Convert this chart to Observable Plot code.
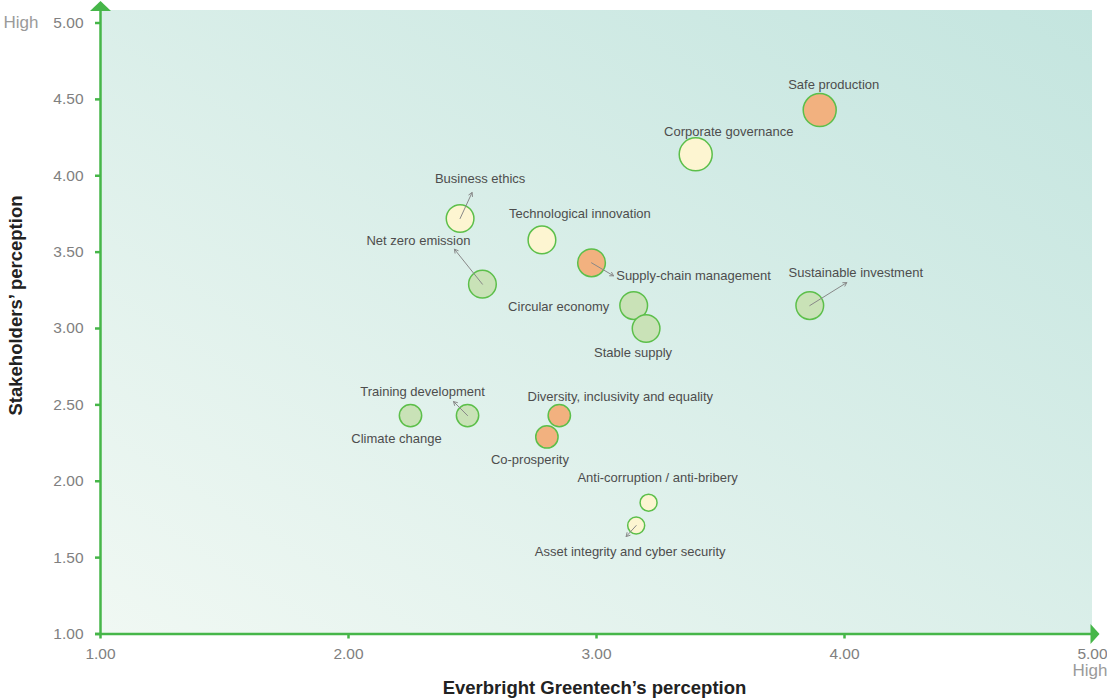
<!DOCTYPE html>
<html><head><meta charset="utf-8">
<script src="https://cdn.jsdelivr.net/npm/d3@7"></script>
<script src="https://cdn.jsdelivr.net/npm/@observablehq/plot@0.6"></script>
<style>
body{margin:0;background:#fff;font-family:"Liberation Sans",Arial,Helvetica,sans-serif}
#chart g[aria-label="x-axis tick"] *, #chart g[aria-label="y-axis tick"] *,
#chart g[aria-label="x-axis tick"], #chart g[aria-label="y-axis tick"],
#chart g[aria-label="x-axis"] .tick line, #chart g[aria-label="y-axis"] .tick line{stroke:#46b649;stroke-width:2.5px}
#chart g[aria-label="x-axis"] .domain, #chart g[aria-label="y-axis"] .domain{display:none}
#chart g[aria-label="x-axis tick label"], #chart g[aria-label="y-axis tick label"],
#chart g[aria-label="x-axis"] text, #chart g[aria-label="y-axis"] text{font-size:15.5px;fill:#808080}
</style>
</head><body><div id="chart"></div>
<script>
// ---- data ----
const topics = ["Safe production","Corporate governance","Business ethics","Technological innovation",
  "Supply-chain management","Net zero emission","Sustainable investment","Circular economy","Stable supply",
  "Climate change","Training development","Diversity, inclusivity and equality","Co-prosperity",
  "Anti-corruption / anti-bribery","Asset integrity and cyber security"];
const companyPerception = [3.90,3.40,2.45,2.78,2.98,2.54,3.86,3.15,3.20,2.25,2.48,2.85,2.80,3.21,3.16];
const stakeholderPerception = [4.43,4.14,3.72,3.58,3.43,3.29,3.15,3.15,3.00,2.43,2.43,2.43,2.29,1.86,1.71];
const group = ["A","B","B","B","A","C","C","C","C","C","C","A","A","B","B"];
const weight = [4,4,3,3,3,3,3,3,3,2,2,2,2,1,1];
const tickValues = [1,2,3,4,5];
const xTitle = "Everbright Greentech’s perception";
const yTitle = "Stakeholders’ perception";
const highLabel = "High";

// ---- layout (pixel offsets for annotations) ----
const labelOffset = { // [dx, dy] of label centre from bubble centre
  "Safe production":[14,-25], "Corporate governance":[33,-23], "Business ethics":[20,-40],
  "Technological innovation":[38,-26], "Supply-chain management":[102,13], "Net zero emission":[-64,-43],
  "Sustainable investment":[46,-33], "Circular economy":[-75,1], "Stable supply":[-13,24],
  "Climate change":[-14,23], "Training development":[-45,-24], "Diversity, inclusivity and equality":[61,-19],
  "Co-prosperity":[-17,23], "Anti-corruption / anti-bribery":[9,-25], "Asset integrity and cyber security":[-6,26]
};
const arrowOffset = { // arrow tip offset from bubble centre
  "Business ethics":[12,-26], "Net zero emission":[-28,-35], "Supply-chain management":[22,13],
  "Sustainable investment":[37,-23], "Training development":[-14,-14], "Asset integrity and cyber security":[-10,11]
};

const W = 1107, H = 700;
const M = {top:22.5, right:15, bottom:66.5, left:100};
const green = "#46b649";
const xs = Plot.scale({x:{domain:[1,5], range:[M.left, W-M.right]}});
const ys = Plot.scale({y:{domain:[1,5], range:[H-M.bottom, M.top]}});

const data = topics.map((t,i)=>{
  const x = companyPerception[i], y = stakeholderPerception[i];
  const px = xs.apply(x), py = ys.apply(y);
  const lo = labelOffset[t], ao = arrowOffset[t];
  return {topic:t, x, y, group:group[i], weight:weight[i],
    lx: xs.invert(px+lo[0]), ly: ys.invert(py+lo[1]),
    ax: ao ? xs.invert(px+ao[0]) : null, ay: ao ? ys.invert(py+ao[1]) : null};
});
const arrows = data.filter(d=>d.ax!=null);

const upTri = {draw(ctx){ctx.moveTo(-10.5,0);ctx.lineTo(10.5,0);ctx.lineTo(0,-10);ctx.closePath();}};
const rightTri = {draw(ctx){ctx.moveTo(0,-10);ctx.lineTo(0,10);ctx.lineTo(9,0);ctx.closePath();}};

const plot = Plot.plot({
  width: W, height: H,
  marginTop: M.top, marginRight: M.right, marginBottom: M.bottom, marginLeft: M.left,
  style: {fontFamily:'"Liberation Sans",Arial,sans-serif', fontSize:"15.5px", color:"#808080", background:"transparent", overflow:"visible"},
  x: {domain:[1,5], ticks:tickValues, tickFormat:d3.format(".2f"), tickSize:5, tickPadding:9, label:null},
  y: {domain:[1,5], ticks:tickValues.flatMap(v=>v<5?[v,v+0.5]:[v]), tickFormat:d3.format(".2f"), tickSize:5, tickPadding:12, label:null},
  r: {type:"linear", domain:[1,4], range:[8.5,16.5]},
  color: {domain:["A","B","C"], range:["#f2b17f","#fdf5d1","#c9e2b7"]},
  marks: [
    Plot.rect([0], {x1:1, x2:5, y1:1, y2:5, fill:"url(#bgGrad)", insetTop:-12.5}),
    Plot.ruleY([1], {stroke:green, strokeWidth:2.5, insetLeft:-5}),
    Plot.ruleX([1], {stroke:green, strokeWidth:2.5, insetTop:-12.5}),
    Plot.dot([0], {x:1, y:5, dy:-12, symbol:upTri, fill:green, stroke:"none"}),
    Plot.dot([0], {x:5, y:1, dx:-2, symbol:rightTri, fill:green, stroke:"none"}),
    Plot.dot(data, {x:"x", y:"y", r:"weight", fill:"group", stroke:"#5cbf4a", strokeWidth:1.5}),
    Plot.arrow(arrows, {x1:"x", y1:"y", x2:"ax", y2:"ay", stroke:"#888", strokeWidth:1, headLength:6}),
    Plot.text(data, {x:"lx", y:"ly", text:"topic", fill:"#4d4d4d", fontSize:13, textAnchor:"middle"}),
    Plot.text([highLabel], {x:1, y:5, text:d=>d, dx:-97, textAnchor:"start", fill:"#9a9a9a", fontSize:17}),
    Plot.text([highLabel], {x:5, y:1, text:d=>d, dx:15, dy:37, textAnchor:"end", fill:"#9a9a9a", fontSize:17}),
    Plot.text([xTitle], {x:xs.invert(594), y:ys.invert(688), text:d=>d, fill:"#222", fontSize:18.5, fontWeight:"bold"}),
    Plot.text([yTitle], {x:xs.invert(16), y:ys.invert(305), rotate:-90, text:d=>d, fill:"#222", fontSize:18.5, fontWeight:"bold"})
  ]
});
const defs = d3.select(plot).insert("defs", ":first-child");
const g = defs.append("linearGradient").attr("id","bgGrad").attr("x1",0).attr("y1",1).attr("x2",1).attr("y2",0);
g.append("stop").attr("offset","0%").attr("stop-color","#f0f8f3");
g.append("stop").attr("offset","100%").attr("stop-color","#c4e5df");
document.getElementById("chart").appendChild(plot);
</script>
</body></html>
